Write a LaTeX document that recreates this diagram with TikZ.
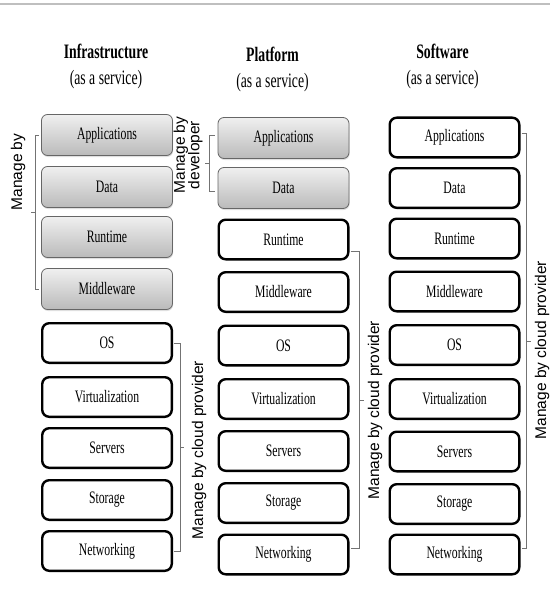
\documentclass[tikz,border=0pt]{standalone}
\usepackage{fontspec}
\setmainfont{Liberation Serif}[FakeStretch=0.67]
\newfontfamily\bracefont{Liberation Sans}
\usetikzlibrary{shadows,calc}

\tikzset{
    devbox/.style={draw=black!60, line width=0.8pt, rounded corners=6pt,
        top color=black!6, bottom color=black!27,
        minimum width=131pt, minimum height=41pt,
        font=\fontsize{17.5}{19}\selectfont,
        drop shadow={opacity=0.25, shadow xshift=0.6pt, shadow yshift=-1.5pt}},
    provbox/.style={draw=black, line width=2.4pt, rounded corners=7pt, fill=white,
        minimum width=129.6pt, minimum height=39.6pt,
        font=\fontsize{17.5}{19}\selectfont},
    brace/.style={draw=black!55, line width=0.7pt},
    bracetext/.style={rotate=90, align=center,
        font=\bracefont\fontsize{15.5}{14.5}\selectfont},
    title/.style={align=center, font=\fontsize{20.5}{26}\selectfont}
}

\begin{document}
\begin{tikzpicture}[x=1pt, y=-1pt]

            \useasboundingbox (0, 0) rectangle (550, 607);
            \draw [black!25, line width=1.5pt] (0, 4) -- (550, 4);

            % Column 1: Infrastructure
            %% Title
            \node [title] (ititle) at (106, 66) {\textbf{Infrastructure}\\(as a service)};

            %% Boxes
            \node [devbox] (iapp) at (107, 135) {Applications};
            \node [devbox] (idata) at (107, 187) {Data};
            \node [devbox] (irun) at (107, 237) {Runtime};
            \node [devbox] (imid) at (107, 289) {Middleware};
            \node [provbox] (ios) at (107, 343) {OS};
            \node [provbox] (ivirt) at (107, 397) {Virtualization};
            \node [provbox] (iserv) at (107, 448) {Servers};
            \node [provbox] (istor) at (107, 500) {Storage};
            \node [provbox] (inet) at (107, 551) {Networking};

            %% Braces
            \draw [brace] ([xshift=-2pt]iapp.west) -- ++(-4, 0) |- ([xshift=-2pt]imid.west);
            \draw [brace] ($(iapp.west)!0.5!(imid.west)+(-6, 0)$) -- ++(-4, 0);
            \node [bracetext] (iuser) at (18, 172) {Manage by};

            \draw [brace] ([xshift=1pt]ios.east) -- ++(6, 0) |- ([xshift=1pt]inet.east);
            \draw [brace] ($(ios.east)!0.5!(inet.east)+(7, 0)$) -- ++(4, 0);
            \node [bracetext] (icloud) at (199, 450) {Manage by cloud provider};

            % Column 2: Platform
            %% Title
            \node [title] (ptitle) at (272.5, 69) {\textbf{Platform}\\(as a service)};

            %% Boxes
            \node [devbox] (papp) at (283.5, 138) {Applications};
            \node [devbox] (pdata) at (283.5, 188) {Data};
            \node [provbox] (prun) at (283.5, 239.5) {Runtime};
            \node [provbox] (pmid) at (283.5, 292) {Middleware};
            \node [provbox] (pos) at (283.5, 345.5) {OS};
            \node [provbox] (pvirt) at (283.5, 399) {Virtualization};
            \node [provbox] (pserv) at (283.5, 451) {Servers};
            \node [provbox] (pstor) at (283.5, 503) {Storage};
            \node [provbox] (pnet) at (283.5, 554.5) {Networking};

            %% Braces
            \draw [brace] ([xshift=-3pt, yshift=3pt]papp.west) -- ++(-5, 0) |- ([xshift=-3pt, yshift=-3pt]pdata.west);
            \draw [brace] ($(papp.west)!0.5!(pdata.west)+(-9, 0)$) -- ++(-4, 0);
            \node [bracetext] (pdev) at (188, 155) {Manage by\\developer};

            \draw [brace] ([xshift=1pt, yshift=-12pt]prun.east) -- ++(9, 0) |- ([xshift=1pt, yshift=6pt]pnet.east);
            \draw [brace] ($([yshift=-12pt]prun.east)!0.5!([yshift=6pt]pnet.east)+(10, 0)$) -- ++(4, 0);
            \node [bracetext] (pcloud) at (375, 410) {Manage by cloud provider};

            % Column 3: Software
            %% Title
            \node [title] (stitle) at (442.5, 66) {\textbf{Software}\\(as a service)};

            %% Boxes
            \node [provbox] (sapp) at (454.5, 137.5) {Applications};
            \node [provbox] (sdata) at (454.5, 188) {Data};
            \node [provbox] (srun) at (454.5, 238.5) {Runtime};
            \node [provbox] (smid) at (454.5, 291.5) {Middleware};
            \node [provbox] (sos) at (454.5, 345) {OS};
            \node [provbox] (svirt) at (454.5, 399) {Virtualization};
            \node [provbox] (sserv) at (454.5, 451.5) {Servers};
            \node [provbox] (sstor) at (454.5, 504) {Storage};
            \node [provbox] (snet) at (454.5, 554.5) {Networking};

            %% Braces
            \draw [brace] ([xshift=1pt, yshift=4pt]sapp.east) -- ++(5, 0) |- ([xshift=1pt, yshift=6pt]snet.east);
            \draw [brace] ($([yshift=4pt]sapp.east)!0.5!([yshift=6pt]snet.east)+(6, 0)$) -- ++(4, 0);
            \node [bracetext] (scloud) at (542, 350) {Manage by cloud provider};
        \end{tikzpicture}
\end{document}
